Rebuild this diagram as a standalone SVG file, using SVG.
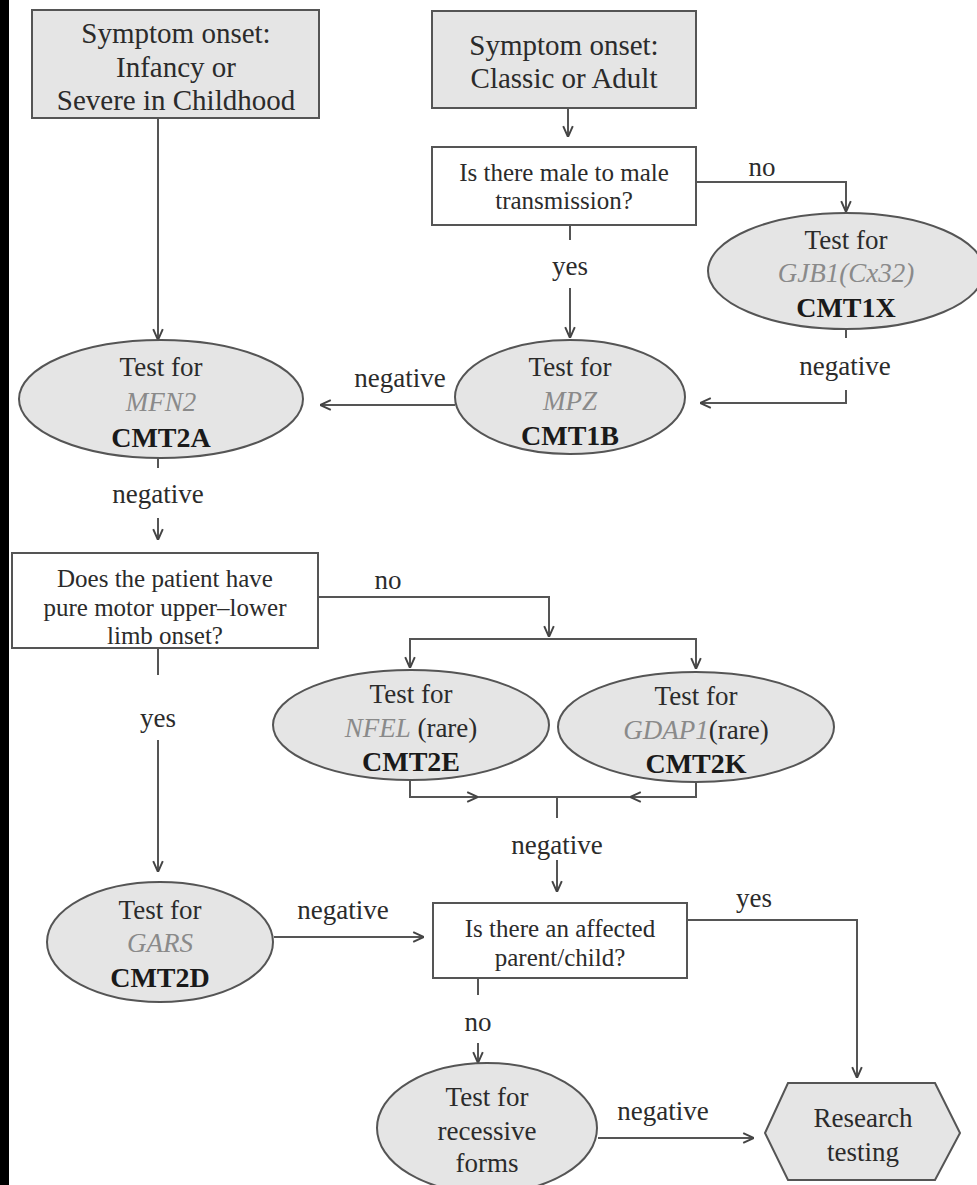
<svg xmlns="http://www.w3.org/2000/svg" width="977" height="1185" viewBox="0 0 977 1185">
<style>
text{font-family:"Times New Roman",Liberation Serif,Tinos,"Nimbus Roman","FreeSerif","DejaVu Serif",serif;font-size:27px;fill:#2b2b2b;text-anchor:middle;dominant-baseline:central}
.b{font-weight:bold;font-size:28px;fill:#1a1a1a}
.g{font-style:italic;fill:#8a8a8a}
.q{font-size:25px}
.s{font-size:29px}
.gray{fill:#e5e5e5;stroke:#555;stroke-width:2}
.white{fill:#fff;stroke:#555;stroke-width:2}
.c path{fill:none;stroke:#555;stroke-width:2}
</style>
<defs>
<marker id="a" viewBox="0 0 10 10" refX="10" refY="5" markerWidth="12" markerHeight="12" markerUnits="userSpaceOnUse" orient="auto">
<path d="M1,1 L10,5 L1,9" fill="none" stroke="#444" stroke-width="1.6"/>
</marker>
</defs>
<rect x="0" y="0" width="977" height="1185" fill="#fff"/>
<rect x="0" y="0" width="9" height="1185" fill="#000"/>

<g class="c" id="connectors">
<path d="M158,118 V340" marker-end="url(#a)"/>
<path d="M568,108 V137" marker-end="url(#a)"/>
<path d="M696,182 H846 V212" marker-end="url(#a)"/>
<path d="M570,225 V240"/>
<path d="M570,288 V338" marker-end="url(#a)"/>
<path d="M846,330 V338"/>
<path d="M846,390 V403 H700" marker-end="url(#a)"/>
<path d="M455,405 H320" marker-end="url(#a)"/>
<path d="M158,458 V468"/>
<path d="M158,518 V540" marker-end="url(#a)"/>
<path d="M318,597 H549 V637" marker-end="url(#a)"/>
<path d="M549,639 H410 V668" marker-end="url(#a)"/>
<path d="M549,639 H696 V669" marker-end="url(#a)"/>
<path d="M410,780 V797 H478" marker-end="url(#a)"/>
<path d="M696,782 V797 H630" marker-end="url(#a)"/>
<path d="M478,797 H630"/>
<path d="M557,797 V818"/>
<path d="M557,860 V892" marker-end="url(#a)"/>
<path d="M158,648 V675"/>
<path d="M158,740 V872" marker-end="url(#a)"/>
<path d="M274,937 H424" marker-end="url(#a)"/>
<path d="M687,920 H857 V1078" marker-end="url(#a)"/>
<path d="M478,978 V995"/>
<path d="M478,1043 V1063" marker-end="url(#a)"/>
<path d="M598,1138 H754" marker-end="url(#a)"/>
</g>

<g id="labels">
<text x="762" y="167">no</text>
<text x="570" y="266">yes</text>
<text x="845" y="366">negative</text>
<text x="400" y="378">negative</text>
<text x="158" y="494">negative</text>
<text x="388" y="580">no</text>
<text x="557" y="845">negative</text>
<text x="158" y="718">yes</text>
<text x="343" y="910">negative</text>
<text x="754" y="898">yes</text>
<text x="478" y="1022">no</text>
<text x="663" y="1111">negative</text>
</g>

<g id="onset-infancy">
<rect class="gray" x="32" y="10" width="287" height="108"/>
<text class="s" x="176" y="33">Symptom onset:</text>
<text class="s" x="176" y="67">Infancy or</text>
<text class="s" x="176" y="100">Severe in Childhood</text>
</g>

<g id="onset-classic">
<rect class="gray" x="432" y="11" width="264" height="97"/>
<text class="s" x="564" y="45">Symptom onset:</text>
<text class="s" x="564" y="78">Classic or Adult</text>
</g>

<g id="q-male">
<rect class="white" x="432" y="147" width="264" height="78"/>
<text class="q" x="564" y="172">Is there male to male</text>
<text class="q" x="564" y="200">transmission?</text>
</g>

<g id="cmt1x">
<ellipse class="gray" cx="846" cy="271" rx="138" ry="58"/>
<text x="846" y="240">Test for</text>
<text class="g" x="846" y="273">GJB1(Cx32)</text>
<text class="b" x="846" y="307">CMT1X</text>
</g>

<g id="cmt1b">
<ellipse class="gray" cx="570" cy="397" rx="115" ry="57"/>
<text x="570" y="367">Test for</text>
<text class="g" x="570" y="401">MPZ</text>
<text class="b" x="570" y="435">CMT1B</text>
</g>

<g id="cmt2a">
<ellipse class="gray" cx="161" cy="399" rx="142" ry="59"/>
<text x="161" y="367">Test for</text>
<text class="g" x="161" y="402">MFN2</text>
<text class="b" x="161" y="437">CMT2A</text>
</g>

<g id="q-motor">
<rect class="white" x="12" y="553" width="306" height="95"/>
<text class="q" x="165" y="578">Does the patient have</text>
<text class="q" x="165" y="607">pure motor upper–lower</text>
<text class="q" x="165" y="635">limb onset?</text>
</g>

<g id="cmt2e">
<ellipse class="gray" cx="411" cy="725" rx="138" ry="55"/>
<text x="411" y="694">Test for</text>
<text x="411" y="728"><tspan class="g">NFEL</tspan> (rare)</text>
<text class="b" x="411" y="761">CMT2E</text>
</g>

<g id="cmt2k">
<ellipse class="gray" cx="696" cy="727" rx="138" ry="55"/>
<text x="696" y="696">Test for</text>
<text x="696" y="730"><tspan class="g">GDAP1</tspan>(rare)</text>
<text class="b" x="696" y="763">CMT2K</text>
</g>

<g id="cmt2d">
<ellipse class="gray" cx="160" cy="942" rx="113" ry="60"/>
<text x="160" y="910">Test for</text>
<text class="g" x="160" y="943">GARS</text>
<text class="b" x="160" y="977">CMT2D</text>
</g>

<g id="q-parent">
<rect class="white" x="433" y="903" width="254" height="75"/>
<text class="q" x="560" y="928">Is there an affected</text>
<text class="q" x="560" y="957">parent/child?</text>
</g>

<g id="recessive">
<ellipse class="gray" cx="487" cy="1128" rx="110" ry="65"/>
<text x="487" y="1097">Test for</text>
<text x="487" y="1131">recessive</text>
<text x="487" y="1163">forms</text>
</g>

<g id="research">
<polygon class="gray" points="765,1133 788,1083 935,1083 960,1133 935,1180 788,1180"/>
<text x="863" y="1118">Research</text>
<text x="863" y="1152">testing</text>
</g>
</svg>
